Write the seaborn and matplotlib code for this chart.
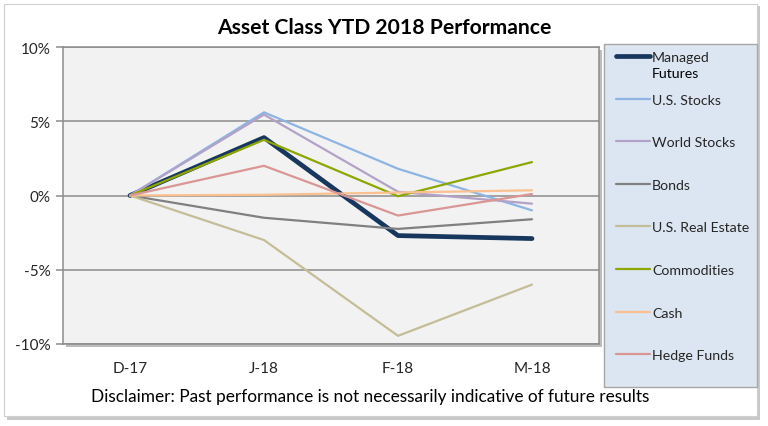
import matplotlib
matplotlib.use("Agg")
import matplotlib.pyplot as plt
import seaborn as sns
import pandas as pd
from matplotlib.patches import Rectangle
from matplotlib.lines import Line2D

# ---- data (percent) ----
months = ["D-17", "J-18", "F-18", "M-18"]
managed_futures = [0.0, 3.9, -2.7, -2.9]
us_stocks = [0.0, 5.6, 1.8, -1.0]
world_stocks = [0.0, 5.45, 0.25, -0.55]
bonds = [0.0, -1.5, -2.25, -1.6]
us_real_estate = [0.0, -3.0, -9.45, -6.0]
commodities = [0.0, 3.75, -0.05, 2.25]
cash = [0.0, 0.05, 0.2, 0.35]
hedge_funds = [0.0, 2.0, -1.35, 0.1]

series_names = ["Managed Futures", "U.S. Stocks", "World Stocks", "Bonds",
                "U.S. Real Estate", "Commodities", "Cash", "Hedge Funds"]
series_values = [managed_futures, us_stocks, world_stocks, bonds,
                 us_real_estate, commodities, cash, hedge_funds]
y_ticks = [-10, -5, 0, 5, 10]
y_tick_labels = ["-10%", "-5%", "0%", "5%", "10%"]

colors = ["#17375e", "#8db4e2", "#b3a2c7", "#808080",
          "#c4bd97", "#8ea600", "#fac090", "#d99694"]
widths = [3.4, 1.6, 1.6, 1.6, 1.6, 1.6, 1.6, 1.6]

rows = []
for name, vals in zip(series_names, series_values):
    for m, v in zip(months, vals):
        rows.append({"month": m, "value": v, "series": name})
df = pd.DataFrame(rows)

sns.set_style("white")
plt.rcParams["font.family"] = ["Lato", "DejaVu Sans"]

W, H = 768, 427
fig = plt.figure(figsize=(W / 100, H / 100), dpi=100)
fig.patch.set_facecolor("white")

# outer chart frame with shadow
fig.patches.append(Rectangle((7 / W, 1 - 421 / H), 753 / W, 414 / H,
                             transform=fig.transFigure, facecolor="#c8c8c8",
                             edgecolor="none", zorder=-3))
fig.patches.append(Rectangle((4 / W, 1 - 417 / H), 753 / W, 412 / H,
                             transform=fig.transFigure, facecolor="white",
                             edgecolor="#d0d0d0", linewidth=0.8, zorder=-2))

ax = fig.add_axes([63 / W, 1 - 345 / H, (599 - 63) / W, (345 - 48) / H])
# plot-area shadow
fig.patches.append(Rectangle((66 / W, 1 - 348 / H), (599 - 63) / W, (345 - 48) / H,
                             transform=fig.transFigure, facecolor="#bdbdbd",
                             edgecolor="none", zorder=-1))
ax.set_facecolor("#f2f2f2")

palette = dict(zip(series_names, colors))
sizes = dict(zip(series_names, widths))
sns.lineplot(data=df, x="month", y="value", hue="series", size="series",
             hue_order=series_names, size_order=series_names,
             palette=palette, sizes=sizes, sort=False, legend=False, ax=ax)
for ln in ax.get_lines():
    ln.set_solid_joinstyle("round")
    ln.set_solid_capstyle("round")

ax.set_xlim(-0.5, len(months) - 0.5)
ax.set_ylim(-10, 10)
ax.set_yticks(y_ticks)
ax.set_yticklabels(y_tick_labels)
ax.yaxis.grid(True, color="#8c8c8c", linewidth=1.1)
ax.xaxis.grid(False)
ax.set_axisbelow(True)
for s in ax.spines.values():
    s.set_color("#8c8c8c")
    s.set_linewidth(1.1)
ax.tick_params(axis="y", which="both", length=5, width=1.1, color="#8c8c8c",
               direction="out", pad=4, labelsize=11, labelcolor="#262626", left=True)
ax.tick_params(axis="x", length=0, pad=12, labelsize=11, labelcolor="#262626")
ax.set_xlabel("")
ax.set_ylabel("")

fig.text(384 / W, 1 - 28 / H, "Asset Class YTD 2018 Performance",
         ha="center", va="center", fontsize=15.2, fontweight="bold", color="black")
fig.text(370 / W, 1 - 397 / H,
         "Disclaimer: Past performance is not necessarily indicative of future results",
         ha="center", va="center", fontsize=12.4, color="black")

# legend box
fig.patches.append(Rectangle((604 / W, 1 - 388 / H), (757 - 604) / W, (388 - 45) / H,
                             transform=fig.transFigure, facecolor="#dce6f2",
                             edgecolor="#a6a6a6", linewidth=1.0, zorder=1))
handles = [Line2D([], [], color=c, linewidth=w) for c, w in zip(colors, widths)]
labels = ["Managed"] + series_names[1:]
leg = fig.legend(handles, labels, loc="upper left",
                 bbox_to_anchor=(616 / W, 1 - 52 / H), frameon=False,
                 fontsize=10.2, handlelength=2.4, handletextpad=0.15,
                 labelspacing=2.16, borderpad=0.0, borderaxespad=0.0)
leg.set_zorder(2)
fig.canvas.draw()
bb = leg.get_texts()[0].get_window_extent()
fig.text(bb.x0 / W, (bb.y0 - 4) / H, "Futures", ha="left", va="top",
         fontsize=10.2, color="black", zorder=3)

fig.savefig("out.png", dpi=100)
